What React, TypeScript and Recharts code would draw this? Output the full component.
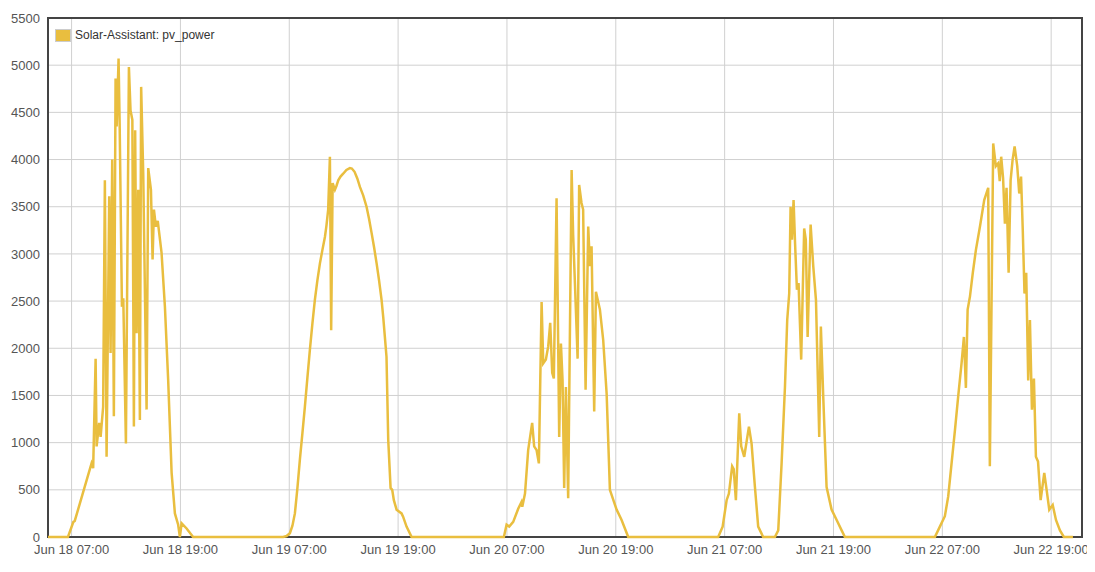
import { LineChart, Line, XAxis, YAxis, CartesianGrid, ReferenceArea } from "recharts";

// [hour of day, watts], one list per day
const jun18: [number, number][] = [
  [4.4, 0], [6.6, 0], [7.2, 160], [7.35, 170], [9.2, 780], [9.38, 730], [9.65, 1890],
  [9.76, 960], [10.04, 1210], [10.2, 1060], [10.48, 1380], [10.67, 3780], [10.86, 850],
  [11.15, 3610], [11.3, 1950], [11.48, 4000], [11.66, 1280], [11.85, 4860], [11.97, 4350],
  [12.18, 5070], [12.3, 4380], [12.55, 2440], [12.7, 2530], [12.99, 990], [13.32, 4980],
  [13.5, 4520], [13.7, 4420], [13.87, 1170], [14.01, 4310], [14.17, 2160], [14.35, 3680],
  [14.53, 1240], [14.67, 4770], [14.9, 3850], [15.27, 1350], [15.45, 3910], [15.75, 3680],
  [15.93, 2940], [16.08, 3470], [16.29, 3290], [16.5, 3350], [16.92, 3010], [17.29, 2440],
  [17.65, 1660], [18.03, 680], [18.39, 250], [18.75, 130], [18.94, 0], [19.13, 145],
  [19.68, 90], [20.4, 0],
];
const jun19: [number, number][] = [
  [6.33, 0], [6.7, 10], [7.07, 40], [7.35, 120], [7.62, 250], [7.9, 520], [8.17, 820],
  [8.45, 1100], [8.72, 1380], [9.0, 1690], [9.27, 1980], [9.55, 2260], [9.82, 2510],
  [10.1, 2720], [10.38, 2900], [10.65, 3040], [10.93, 3180], [11.1, 3300], [11.29, 3470],
  [11.48, 4030], [11.62, 2190], [11.78, 3750], [12.03, 3680], [12.2, 3720], [12.4, 3780],
  [12.65, 3820], [12.94, 3850], [13.3, 3890], [13.68, 3910], [13.9, 3905], [14.2, 3870],
  [14.5, 3800], [14.79, 3710], [15.15, 3620], [15.52, 3500], [15.8, 3370], [16.08, 3220],
  [16.35, 3070], [16.63, 2900], [16.9, 2720], [17.18, 2510], [17.36, 2330], [17.54, 2120],
  [17.72, 1910], [17.91, 1030], [18.17, 520], [18.35, 500], [18.53, 390], [18.83, 290],
  [19.38, 250], [19.55, 215], [19.93, 110], [20.49, 0],
];
const jun20: [number, number][] = [
  [6.66, 0], [6.96, 130], [7.25, 110], [7.69, 160], [8.24, 300], [8.6, 370], [8.69, 320],
  [8.99, 460], [9.34, 920], [9.78, 1210], [10.0, 960], [10.27, 920], [10.52, 780],
  [10.82, 2490], [11.0, 1840], [11.29, 1880], [11.55, 2020], [11.77, 2270], [11.99, 1740],
  [12.17, 1680], [12.47, 3590], [12.76, 1060], [12.95, 2050], [13.13, 1660], [13.31, 520],
  [13.5, 1590], [13.75, 410], [14.13, 3890], [14.3, 3200], [14.6, 2410], [14.79, 1890],
  [14.96, 3730], [15.22, 3540], [15.4, 3470], [15.67, 1560], [15.96, 3290], [16.15, 2870],
  [16.33, 3080], [16.62, 1330], [16.81, 2600], [17.25, 2410], [17.61, 2090], [17.99, 1520],
  [18.35, 500], [19.09, 290], [19.64, 180], [20.37, 0],
];
const jun21: [number, number][] = [
  [6.29, 0], [6.78, 110], [7.22, 390], [7.47, 460], [7.83, 750], [8.0, 720], [8.24, 390],
  [8.61, 1310], [8.83, 960], [9.16, 850], [9.68, 1170], [9.97, 990], [10.34, 530],
  [10.7, 110], [11.25, 0], [12.54, 0], [12.91, 70], [13.28, 780], [13.65, 1590],
  [13.9, 2300], [14.12, 2580], [14.27, 3500], [14.42, 3150], [14.6, 3570], [14.77, 3100],
  [14.97, 2620], [15.15, 2690], [15.44, 1880], [15.77, 3270], [15.95, 3150], [16.15, 2120],
  [16.48, 3310], [16.77, 2870], [17.07, 2510], [17.43, 1060], [17.61, 2230], [17.87, 1490],
  [18.24, 530], [18.79, 290], [19.35, 180], [19.9, 70], [20.26, 0],
];
const jun22: [number, number][] = [
  [6.18, 0], [6.73, 110], [7.28, 220], [7.65, 430], [8.02, 780], [8.39, 1130], [8.75, 1490],
  [9.12, 1840], [9.38, 2120], [9.6, 1580], [9.79, 2410], [10.05, 2550], [10.36, 2800],
  [10.7, 3040], [11.15, 3290], [11.62, 3570], [12.06, 3700], [12.24, 750], [12.61, 4170],
  [12.9, 3930], [13.16, 3960], [13.33, 3770], [13.49, 4030], [13.7, 3800], [13.9, 3320],
  [14.08, 3700], [14.31, 2800], [14.53, 3780], [14.75, 4000], [14.97, 4140], [15.26, 3930],
  [15.48, 3640], [15.68, 3820], [15.87, 3250], [16.06, 2580], [16.25, 2800], [16.47, 1660],
  [16.66, 2300], [16.88, 1350], [17.1, 1680], [17.32, 850], [17.55, 800], [17.84, 390],
  [18.24, 680], [18.5, 500], [18.79, 290], [19.17, 340], [19.53, 180], [19.97, 70],
  [20.4, 0], [21.4, 0],
];

const days = [jun18, jun19, jun20, jun21, jun22];
const xTicks = [7, 19, 31, 43, 55, 67, 79, 91, 103, 115];
const yTicks = [0, 500, 1000, 1500, 2000, 2500, 3000, 3500, 4000, 4500, 5000, 5500];
const seriesName = "Solar-Assistant: pv_power";

// t = hours since Jun 18 00:00
const data = days.flatMap((day, d) => day.map(([h, pv]) => ({ t: d * 24 + h, pv })));

const COLOR = "#e9be3f";

function formatTime(t: number) {
  const day = 18 + Math.floor(t / 24);
  const hh = String(t % 24).padStart(2, "0");
  return `Jun ${day} ${hh}:00`;
}

export default function App() {
  const tickStyle = { fill: "#555", fontSize: 13, fontFamily: "Arial, 'Liberation Sans', sans-serif" };
  return (
    <div style={{ position: "relative", width: 1087, height: 564 }}>
      <LineChart
        width={1087}
        height={564}
        data={data}
        margin={{ top: 10, right: 13, bottom: 5, left: 0 }}
      >
        <CartesianGrid stroke="#d0d0d0" />
        <XAxis
          type="number"
          dataKey="t"
          domain={[4.4, 118.4]}
          ticks={xTicks}
          tickFormatter={formatTime}
          tick={tickStyle}
          tickLine={false}
          axisLine={false}
          height={30}
          allowDataOverflow
        />
        <YAxis
          domain={[0, 5500]}
          ticks={yTicks}
          tick={tickStyle}
          tickLine={false}
          axisLine={false}
          width={40}
          interval={0}
        />
        <ReferenceArea
          x1={4.4}
          x2={118.4}
          y1={0}
          y2={5500}
          fill="none"
          stroke="#444"
          strokeWidth={2}
          ifOverflow="visible"
        />
        <Line
          type="linear"
          dataKey="pv"
          name={seriesName}
          stroke={COLOR}
          strokeWidth={2.5}
          dot={false}
          isAnimationActive={false}
        />
      </LineChart>
      <div
        style={{
          position: "absolute",
          left: 47,
          top: 20,
          display: "flex",
          alignItems: "center",
          fontFamily: "Arial, 'Liberation Sans', sans-serif",
          fontSize: 12,
          color: "#333",
        }}
      >
        <span
          style={{
            display: "inline-block",
            width: 14,
            height: 11,
            background: COLOR,
            border: "1px solid #ccc",
            marginRight: 4,
          }}
        />
        {seriesName}
      </div>
    </div>
  );
}
